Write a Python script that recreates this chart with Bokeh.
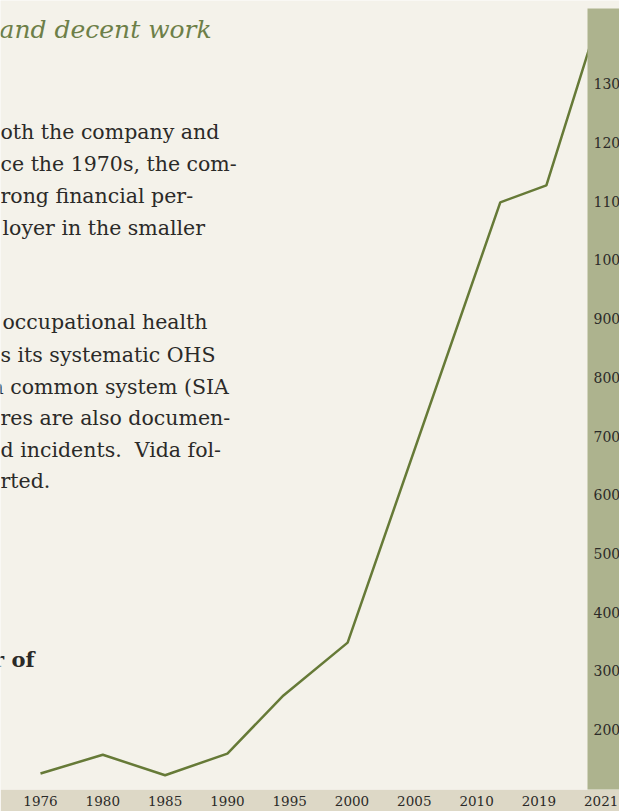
from bokeh.plotting import figure
from bokeh.models import FixedTicker
from bokeh.core.properties import value
from bokeh.embed import file_html
from bokeh.resources import INLINE

# ---------------- data ----------------
years = ["1976", "1980", "1985", "1990", "1995", "2000", "2005", "2010", "2019", "2021"]
line_years = ["1976", "1980", "1985", "1990", "1995", "2000", "2010", "2019", "2021"]
line_slots = [0.0, 1.0, 2.0, 3.0, 3.9, 4.93, 7.38, 8.12, 9.0]
employees = [125, 157, 122, 159, 258, 348, 1098, 1127, 1425]
y_ticks = [200, 300, 400, 500, 600, 700, 800, 900, 1000, 1100, 1200, 1300]
y_tick_labels = [str(v) for v in y_ticks]

heading = "and decent work"
para1 = ["oth the company and", "ce the 1970s, the com-", "rong financial per-",
         "loyer in the smaller"]
para2 = ["occupational health", "s its systematic OHS", "a common system (SIA",
         "res are also documen-", "d incidents.\u00a0 Vida fol-", "rted."]
subhead = "r of"

# ---------------- layout ----------------
W, H = 619, 811
FRAME_H = 789
SLOT_PX = 62.3
FIRST_SLOT_PX = 40.0
UNIT_PX = 0.587
Y200_PX = 729.0

CREAM = "#f4f2ea"
GREEN_BAND = "#adb38e"
BEIGE = "#ddd8c6"
LINE = "#667a37"
HEAD = "#6d7f48"
INK = "#2b2a28"
SERIF = "DejaVu Serif"

x0 = -FIRST_SLOT_PX / SLOT_PX
x1 = x0 + W / SLOT_PX
y1 = 200 + Y200_PX / UNIT_PX
y0 = y1 - FRAME_H / UNIT_PX


def sx(px):
    return x0 + px / SLOT_PX


def sy(py):
    return y1 - py / UNIT_PX


p = figure(width=W, height=H, x_range=(x0, x1), y_range=(y0, y1),
           output_backend="svg", toolbar_location=None, y_axis_location=None,
           min_border=0, min_border_bottom=H - FRAME_H,
           background_fill_color=CREAM, border_fill_color=BEIGE,
           outline_line_color=None)
p.grid.visible = False

xa = p.xaxis[0]
xa.ticker = FixedTicker(ticks=list(range(len(years))))
xa.major_label_overrides = {i: y for i, y in enumerate(years)}
xa.axis_line_color = None
xa.major_tick_line_color = None
xa.minor_tick_line_color = None
xa.major_tick_out = 0
xa.major_tick_in = 0
xa.major_label_standoff = 6
xa.major_label_text_font = SERIF
xa.major_label_text_font_size = "13.5px"
xa.major_label_text_color = INK

# line (drawn beneath the band, which hides its last stretch)
p.line(line_slots, employees, line_color=LINE, line_width=2.5, level="underlay")

# green band for the value scale
p.quad(left=[sx(587)], right=[x1 + 5], top=[sy(8)], bottom=[y0 - 50],
       fill_color=GREEN_BAND, line_color=None)
p.text(x=[sx(593)] * len(y_ticks), y=y_ticks, text=y_tick_labels,
       text_font=value(SERIF), text_font_size="14px", text_color=INK,
       text_baseline="middle", text_align="left")

# page text
p.text(x=[sx(-1)], y=[sy(29)], text=[heading], text_font=value(SERIF),
       text_font_style="italic", text_font_size="25px", text_color=HEAD,
       text_baseline="alphabetic")

base1 = [131, 163, 195, 227.5]
p.text(x=[sx(0), sx(0), sx(0), sx(2)], y=[sy(b) for b in base1], text=para1,
       text_font=value(SERIF), text_font_size="20.5px", text_color=INK,
       text_baseline="alphabetic")

base2 = [321.5, 354, 386, 417, 449, 480.5]
p.text(x=[sx(2), sx(0), sx(-9), sx(0), sx(0), sx(0)], y=[sy(b) for b in base2],
       text=para2, text_font=value(SERIF), text_font_size="20.5px",
       text_color=INK, text_baseline="alphabetic")

p.text(x=[sx(34)], y=[sy(659)], text=[subhead], text_font=value(SERIF),
       text_font_style="bold", text_font_size="21px", text_color=INK,
       text_baseline="alphabetic", text_align="right")

open("out.html", "w").write(file_html(p, INLINE))
